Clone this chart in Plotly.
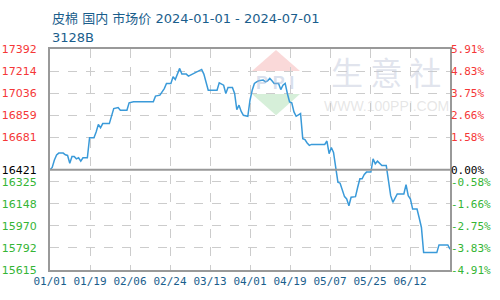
import pandas as pd
import plotly.graph_objects as go

title_line1 = "皮棉 国内 市场价 2024-01-01 - 2024-07-01"
title_line2 = "3128B"
base_price = 16421

dates = ["2024-01-01","2024-01-02","2024-01-03","2024-01-04","2024-01-05","2024-01-07","2024-01-08","2024-01-09",
         "2024-01-10","2024-01-11","2024-01-12","2024-01-13","2024-01-14","2024-01-15","2024-01-16","2024-01-18",
         "2024-01-19","2024-01-21","2024-01-22","2024-01-23","2024-01-24","2024-01-25","2024-01-28","2024-01-29",
         "2024-01-30","2024-02-01","2024-02-02","2024-02-05","2024-02-06","2024-02-08","2024-02-17","2024-02-18",
         "2024-02-20","2024-02-22","2024-02-23","2024-02-25","2024-02-26","2024-02-27","2024-02-28","2024-02-29",
         "2024-03-01","2024-03-03","2024-03-04","2024-03-06","2024-03-08","2024-03-10","2024-03-11","2024-03-12",
         "2024-03-13","2024-03-14","2024-03-17","2024-03-18","2024-03-20","2024-03-21","2024-03-22","2024-03-24",
         "2024-03-25","2024-03-26","2024-03-27","2024-03-28","2024-03-29","2024-03-31","2024-04-01","2024-04-02",
         "2024-04-03","2024-04-04","2024-04-05","2024-04-07","2024-04-08","2024-04-09","2024-04-10","2024-04-11",
         "2024-04-12","2024-04-14","2024-04-15","2024-04-16","2024-04-17","2024-04-18","2024-04-19","2024-04-20",
         "2024-04-21","2024-04-22","2024-04-23","2024-04-24","2024-04-25","2024-04-26","2024-04-27","2024-04-28",
         "2024-04-29","2024-05-05","2024-05-06","2024-05-07","2024-05-08","2024-05-09","2024-05-10","2024-05-11",
         "2024-05-12","2024-05-13","2024-05-14","2024-05-15","2024-05-16","2024-05-17","2024-05-19","2024-05-20",
         "2024-05-21","2024-05-22","2024-05-23","2024-05-24","2024-05-26","2024-05-27","2024-05-28","2024-05-29",
         "2024-05-30","2024-05-31","2024-06-02","2024-06-03","2024-06-04","2024-06-05","2024-06-06","2024-06-07",
         "2024-06-10","2024-06-11","2024-06-12","2024-06-13","2024-06-14","2024-06-16","2024-06-17","2024-06-18",
         "2024-06-19","2024-06-25","2024-06-26","2024-06-30","2024-07-01"]
prices = [16421,16440,16500,16540,16555,16555,16541,16536,
          16474,16528,16528,16509,16517,16490,16517,16517,
          16679,16679,16724,16786,16759,16792,16792,16846,
          16913,16921,16899,16899,16959,16967,16967,17013,
          17021,17074,17115,17115,17169,17147,17190,17236,
          17190,17190,17174,17190,17209,17228,17190,17115,
          17061,17061,17061,17120,17101,17034,17082,17082,
          17034,16905,16940,16890,16859,16851,16980,17060,
          17115,17128,17136,17142,17128,17136,17155,17136,
          17115,17115,17066,17101,17115,17034,16967,16959,
          16886,16851,16859,16873,16671,16663,16636,16617,
          16625,16625,16652,16550,16600,16560,16440,16321,
          16313,16250,16205,16186,16132,16200,16205,16280,
          16348,16348,16383,16402,16402,16509,16469,16490,
          16474,16455,16455,16348,16213,16159,16200,16227,
          16227,16302,16213,16186,16105,16105,16033,15957,
          15755,15755,15817,15817,15782]

y_ticks = [17392,17214,17036,16859,16681,16421,16325,16148,15970,15792,15615]
pct_labels = ["5.91%","4.83%","3.75%","2.66%","1.58%","0.00%","-0.58%","-1.66%","-2.75%","-3.83%","-4.91%"]
x_labels = ["01/01","01/19","02/06","02/24","03/13","04/01","04/19","05/07","05/25","06/12"]

RED = "#f53737"
GREEN = "#35b535"
BLUE_TXT = "#1a5e8c"

def col(v):
    if v > base_price:
        return RED
    if v < base_price:
        return GREEN
    return "#000000"

left_text = [f"<span style='color:{col(v)}'>{v}</span>" for v in y_ticks]
right_text = [f"<span style='color:{col(v)}'>{p}</span>" for v, p in zip(y_ticks, pct_labels)]

start = pd.Timestamp("2024-01-01")
end = pd.Timestamp("2024-07-01")
step = (end - start) / 10
x_tickvals = [start + step * i for i in range(10)]

fig = go.Figure()
fig.add_trace(go.Scatter(x=dates, y=prices, mode="lines",
                         line=dict(color="#3a9ad9", width=1.5), hoverinfo="skip"))
fig.add_trace(go.Scatter(x=[dates[0]], y=[prices[0]], yaxis="y2", mode="markers",
                         marker=dict(opacity=0), hoverinfo="skip", showlegend=False))

fig.update_layout(
    width=500, height=300,
    margin=dict(l=50, r=50, t=49, b=30, autoexpand=False),
    paper_bgcolor="white", plot_bgcolor="white",
    showlegend=False,
    font=dict(family="DejaVu Sans", size=11),
    xaxis=dict(type="date", range=[start, end], tickvals=x_tickvals, ticktext=x_labels,
               showgrid=True, gridcolor="#cccccc", griddash="dash", gridwidth=1,
               showline=True, linecolor="#999999", linewidth=2, mirror=True,
               ticks="", tickfont=dict(family="DejaVu Sans Mono", size=11, color=BLUE_TXT),
               zeroline=False, fixedrange=True, automargin=False),
    yaxis=dict(range=[15615, 17392], tickvals=y_ticks, ticktext=left_text,
               showgrid=True, gridcolor="#cccccc", griddash="dash", gridwidth=1,
               showline=True, linecolor="#999999", linewidth=2, mirror=True,
               ticks="", tickfont=dict(family="DejaVu Sans", size=11),
               ticklabelstandoff=9, automargin=False,
               zeroline=False, fixedrange=True),
    yaxis2=dict(range=[15615, 17392], tickvals=y_ticks, ticktext=right_text,
                overlaying="y", side="right", showgrid=False, showline=False,
                ticks="", tickfont=dict(family="DejaVu Sans Mono", size=11),
                zeroline=False, fixedrange=True, automargin=False),
)

# base price line
fig.add_shape(type="line", xref="paper", x0=0, x1=1, yref="y", y0=base_price, y1=base_price,
              line=dict(color="#999999", width=2), layer="above")

# watermark (logo)
fig.add_shape(type="path", xref="paper", yref="paper", layer="below",
              path="M 0.565,0.995 L 0.625,0.90 L 0.505,0.90 Z",
              fillcolor="rgba(245,170,170,0.45)", line=dict(width=0))
fig.add_shape(type="path", xref="paper", yref="paper", layer="below",
              path="M 0.505,0.796 L 0.625,0.796 L 0.565,0.70 Z",
              fillcolor="rgba(165,220,170,0.45)", line=dict(width=0))
fig.add_annotation(xref="paper", yref="paper", x=0.5625, y=0.846, xanchor="center", yanchor="middle",
                   text="<b>P P I</b>", showarrow=False,
                   font=dict(family="Liberation Sans", size=18, color="rgba(170,185,215,0.45)"))
fig.add_annotation(xref="paper", yref="paper", x=0.84, y=0.900, xanchor="center", yanchor="middle",
                   text="生 意 社", showarrow=False,
                   font=dict(family="Noto Sans CJK SC", size=32, color="rgba(195,202,220,0.5)"))
fig.add_annotation(xref="paper", yref="paper", x=0.84, y=0.742, xanchor="center", yanchor="middle",
                   text="WWW.100PPI.COM", showarrow=False,
                   font=dict(family="Liberation Sans", size=14, color="rgba(200,200,200,0.45)"))

fig.add_annotation(xref="paper", yref="paper", x=0, y=1, xanchor="left", yanchor="bottom",
                   yshift=21, text=title_line1, showarrow=False, align="left",
                   font=dict(family="DejaVu Sans, Noto Sans CJK SC", size=13, color=BLUE_TXT))
fig.add_annotation(xref="paper", yref="paper", x=0, y=1, xanchor="left", yanchor="bottom",
                   yshift=2, text=title_line2, showarrow=False, align="left",
                   font=dict(family="DejaVu Sans", size=13, color=BLUE_TXT))

fig.write_html("out.html", config={"displayModeBar": False})
